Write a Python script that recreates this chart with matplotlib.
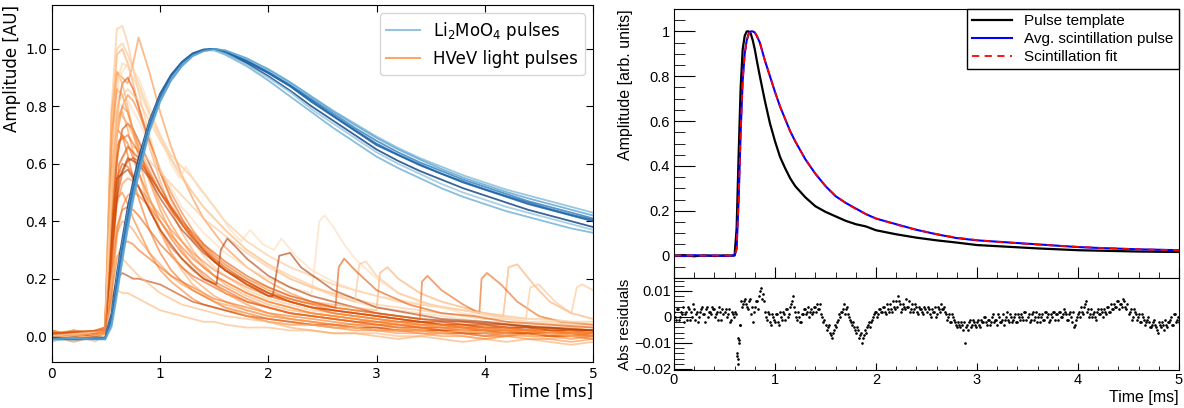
import numpy as np
import matplotlib.pyplot as plt
from matplotlib.lines import Line2D
from matplotlib.ticker import MultipleLocator

# ---------------- left panel: pulse shapes ----------------
t_grid = [0.0, 0.2, 0.4, 0.49,
          0.55, 0.6, 0.65, 0.7, 0.75, 0.8,
          0.9, 1.0, 1.1, 1.2, 1.3, 1.4, 1.5, 1.6,
          1.8, 2.0, 2.2, 2.4, 2.6, 2.8,
          3.0, 3.2, 3.4, 3.6, 3.8,
          4.0, 4.2, 4.4, 4.6, 4.8, 5.0]

li2moo4_pulses = [
    [-0.01, -0.005, -0.01, -0.01,
     0.05, 0.18, 0.30, 0.41, 0.51, 0.59,
     0.73, 0.83, 0.90, 0.95, 0.98, 0.995, 1.0, 0.99,
     0.955, 0.915, 0.87, 0.815, 0.765, 0.715,
     0.665, 0.63, 0.595, 0.565, 0.535,
     0.51, 0.485, 0.46, 0.44, 0.42, 0.40],
    [-0.005, -0.01, -0.005, -0.005,
     0.08, 0.22, 0.34, 0.45, 0.54, 0.62,
     0.75, 0.845, 0.91, 0.955, 0.985, 0.998, 1.0, 0.985,
     0.95, 0.905, 0.855, 0.80, 0.75, 0.70,
     0.65, 0.61, 0.575, 0.545, 0.515,
     0.49, 0.465, 0.44, 0.42, 0.40, 0.38],
    [-0.01, -0.01, -0.005, -0.01,
     0.04, 0.16, 0.28, 0.39, 0.49, 0.575,
     0.72, 0.82, 0.895, 0.945, 0.978, 0.995, 1.0, 0.992,
     0.96, 0.92, 0.875, 0.825, 0.775, 0.725,
     0.68, 0.64, 0.605, 0.575, 0.545,
     0.52, 0.495, 0.47, 0.45, 0.43, 0.41],
    [-0.015, -0.01, -0.01, -0.012,
     0.03, 0.14, 0.26, 0.37, 0.47, 0.56,
     0.71, 0.815, 0.89, 0.94, 0.975, 0.993, 1.0, 0.995,
     0.965, 0.93, 0.885, 0.835, 0.785, 0.74,
     0.695, 0.655, 0.62, 0.59, 0.56,
     0.535, 0.51, 0.49, 0.47, 0.45, 0.43],
    [-0.01, -0.005, -0.01, -0.008,
     0.06, 0.20, 0.32, 0.43, 0.52, 0.60,
     0.74, 0.835, 0.90, 0.95, 0.98, 0.995, 0.995, 0.98,
     0.94, 0.89, 0.835, 0.78, 0.725, 0.675,
     0.625, 0.585, 0.55, 0.515, 0.485,
     0.46, 0.435, 0.415, 0.395, 0.375, 0.36],
    [-0.012, -0.01, -0.008, -0.01,
     0.05, 0.19, 0.31, 0.42, 0.51, 0.595,
     0.735, 0.83, 0.90, 0.948, 0.978, 0.994, 0.997, 0.985,
     0.945, 0.90, 0.85, 0.79, 0.74, 0.69,
     0.64, 0.60, 0.565, 0.53, 0.50,
     0.475, 0.45, 0.43, 0.41, 0.39, 0.37],
    [-0.008, -0.012, -0.01, -0.01,
     0.06, 0.19, 0.31, 0.42, 0.515, 0.595,
     0.735, 0.835, 0.905, 0.952, 0.982, 0.997, 1.0, 0.99,
     0.958, 0.918, 0.872, 0.82, 0.768, 0.718,
     0.67, 0.632, 0.598, 0.566, 0.538,
     0.512, 0.488, 0.465, 0.443, 0.423, 0.405],
    [-0.01, -0.008, -0.012, -0.01,
     0.04, 0.15, 0.27, 0.38, 0.48, 0.565,
     0.715, 0.82, 0.89, 0.94, 0.975, 0.992, 1.0, 0.995,
     0.968, 0.928, 0.883, 0.832, 0.782, 0.735,
     0.69, 0.65, 0.615, 0.582, 0.552,
     0.527, 0.502, 0.48, 0.46, 0.44, 0.42],
]
li2moo4_shade = [0.85, 0.95, 0.7, 0.45, 0.5, 0.4, 0.8, 0.55]

hvev_pulses = [
    [0.01, -0.01, 0.00, 0.03,
     0.80, 1.07, 1.08, 1.02, 0.93, 0.85,
     0.70, 0.57, 0.47, 0.39, 0.33, 0.28, 0.24, 0.21,
     0.16, 0.13, 0.11, 0.09, 0.08, 0.07,
     0.06, 0.05, 0.05, 0.04, 0.03,
     0.04, 0.03, 0.02, 0.03, 0.02, 0.02],
    [0.00, 0.01, -0.01, 0.02,
     0.60, 0.92, 0.90, 0.88, 0.95, 1.04,
     0.92, 0.78, 0.66, 0.56, 0.48, 0.41, 0.36, 0.31,
     0.24, 0.19, 0.15, 0.12, 0.10, 0.09,
     0.08, 0.07, 0.06, 0.05, 0.05,
     0.04, 0.04, 0.03, 0.03, 0.03, 0.02],
    [0.00, 0.02, -0.01, 0.02,
     0.70, 0.98, 1.00, 0.95, 0.88, 0.80,
     0.66, 0.54, 0.44, 0.36, 0.30, 0.25, 0.21, 0.18,
     0.14, 0.11, 0.09, 0.08, 0.07, 0.06,
     0.05, 0.04, 0.04, 0.03, 0.03,
     0.02, 0.02, 0.02, 0.01, 0.01, 0.01],
    [0.01, -0.01, 0.01, 0.03,
     0.55, 0.88, 0.95, 0.94, 0.90, 0.86,
     0.77, 0.69, 0.62, 0.56, 0.50, 0.45, 0.41, 0.37,
     0.30, 0.25, 0.20, 0.17, 0.14, 0.12,
     0.10, 0.09, 0.08, 0.07, 0.06,
     0.05, 0.05, 0.04, 0.04, 0.03, 0.03],
    [0.01, 0.00, 0.02, 0.03,
     0.45, 0.78, 0.88, 0.90, 0.86, 0.80,
     0.68, 0.57, 0.48, 0.41, 0.35, 0.30, 0.26, 0.23,
     0.18, 0.14, 0.12, 0.10, 0.08, 0.07,
     0.06, 0.05, 0.05, 0.04, 0.03,
     0.03, 0.03, 0.02, 0.02, 0.02, 0.01],
    [-0.01, 0.01, 0.00, 0.02,
     0.40, 0.70, 0.80, 0.84, 0.82, 0.78,
     0.68, 0.58, 0.50, 0.43, 0.37, 0.32, 0.28, 0.25,
     0.20, 0.16, 0.13, 0.11, 0.09, 0.08,
     0.07, 0.06, 0.05, 0.04, 0.04,
     0.03, 0.03, 0.02, 0.02, 0.01, 0.01],
    [0.02, 0.00, 0.01, 0.02,
     0.55, 0.76, 0.78, 0.72, 0.64, 0.57,
     0.45, 0.36, 0.29, 0.24, 0.20, 0.17, 0.14, 0.12,
     0.09, 0.07, 0.06, 0.05, 0.04, 0.03,
     0.03, 0.02, 0.02, 0.01, 0.01,
     0.01, 0.00, 0.01, 0.00, 0.00, 0.00],
    [0.00, 0.02, 0.01, 0.03,
     0.35, 0.62, 0.72, 0.74, 0.72, 0.68,
     0.60, 0.52, 0.45, 0.39, 0.34, 0.30, 0.26, 0.23,
     0.19, 0.15, 0.12, 0.10, 0.09, 0.08,
     0.07, 0.06, 0.05, 0.05, 0.04,
     0.04, 0.03, 0.03, 0.02, 0.02, 0.02],
    [0.01, -0.01, 0.00, 0.02,
     0.45, 0.66, 0.70, 0.67, 0.62, 0.57,
     0.48, 0.40, 0.34, 0.29, 0.25, 0.22, 0.19, 0.17,
     0.13, 0.10, 0.08, 0.07, 0.06, 0.05,
     0.04, 0.04, 0.03, 0.03, 0.02,
     0.02, 0.02, 0.01, 0.01, 0.01, 0.00],
    [0.00, 0.01, -0.02, 0.01,
     0.30, 0.52, 0.62, 0.65, 0.66, 0.65,
     0.61, 0.57, 0.53, 0.49, 0.45, 0.41, 0.38, 0.35,
     0.29, 0.24, 0.20, 0.17, 0.15, 0.13,
     0.11, 0.10, 0.09, 0.08, 0.07,
     0.06, 0.06, 0.05, 0.05, 0.04, 0.04],
    [0.01, 0.00, 0.01, 0.02,
     0.35, 0.55, 0.60, 0.59, 0.56, 0.52,
     0.44, 0.37, 0.31, 0.27, 0.23, 0.20, 0.18, 0.16,
     0.12, 0.10, 0.08, 0.07, 0.06, 0.05,
     0.04, 0.03, 0.03, 0.02, 0.02,
     0.02, 0.01, 0.01, 0.01, 0.00, 0.01],
    [-0.01, 0.01, 0.00, 0.01,
     0.25, 0.46, 0.53, 0.55, 0.54, 0.52,
     0.47, 0.42, 0.37, 0.33, 0.29, 0.26, 0.23, 0.21,
     0.17, 0.14, 0.12, 0.10, 0.08, 0.07,
     0.06, 0.05, 0.04, 0.04, 0.03,
     0.03, 0.02, 0.02, 0.02, 0.01, 0.01],
    [0.00, 0.02, 0.00, 0.02,
     0.35, 0.48, 0.50, 0.46, 0.41, 0.37,
     0.29, 0.23, 0.19, 0.16, 0.13, 0.11, 0.10, 0.09,
     0.07, 0.05, 0.04, 0.04, 0.03, 0.02,
     0.02, 0.02, 0.01, 0.01, 0.01,
     0.00, 0.01, 0.00, 0.00, -0.01, 0.00],
    [0.01, 0.00, 0.01, 0.02,
     0.20, 0.38, 0.44, 0.45, 0.44, 0.42,
     0.37, 0.32, 0.28, 0.24, 0.21, 0.19, 0.17, 0.15,
     0.12, 0.10, 0.08, 0.07, 0.06, 0.05,
     0.05, 0.04, 0.03, 0.03, 0.03,
     0.02, 0.02, 0.02, 0.01, 0.01, 0.01],
    [0.00, -0.01, 0.01, 0.01,
     0.22, 0.36, 0.40, 0.39, 0.37, 0.34,
     0.29, 0.25, 0.21, 0.18, 0.16, 0.14, 0.12, 0.11,
     0.09, 0.07, 0.06, 0.05, 0.04, 0.04,
     0.03, 0.03, 0.02, 0.02, 0.02,
     0.01, 0.01, 0.01, 0.00, 0.01, 0.00],
    [0.01, 0.01, 0.00, 0.02,
     0.15, 0.27, 0.32, 0.33, 0.32, 0.30,
     0.27, 0.24, 0.21, 0.19, 0.17, 0.15, 0.13, 0.12,
     0.10, 0.08, 0.07, 0.06, 0.05, 0.04,
     0.04, 0.03, 0.03, 0.02, 0.02,
     0.02, 0.01, 0.01, 0.01, 0.01, 0.00],
    [0.00, 0.01, 0.00, 0.02,
     0.12, 0.20, 0.22, 0.21, 0.20, 0.20,
     0.19, 0.18, 0.16, 0.14, 0.12, 0.11, 0.10, 0.09,
     0.07, 0.06, 0.05, 0.04, 0.04, 0.03,
     0.03, 0.02, 0.02, 0.02, 0.01,
     0.01, 0.01, 0.01, 0.00, 0.00, 0.00],
    [0.01, -0.01, 0.00, 0.01,
     0.12, 0.16, 0.15, 0.15, 0.14, 0.13,
     0.11, 0.09, 0.08, 0.07, 0.06, 0.05, 0.05, 0.04,
     0.03, 0.03, 0.02, 0.02, 0.01, 0.01,
     0.01, 0.00, 0.00, 0.01, 0.00,
     -0.01, 0.00, 0.00, -0.01, 0.00, -0.01],
    [0.00, 0.01, 0.00, 0.02,
     0.75, 1.00, 1.02, 0.98, 0.93, 0.88,
     0.78, 0.70, 0.63, 0.59, 0.55, 0.50, 0.45, 0.40,
     0.33, 0.28, 0.24, 0.21, 0.18, 0.16,
     0.14, 0.12, 0.11, 0.10, 0.09,
     0.08, 0.07, 0.06, 0.06, 0.05, 0.05],
    [0.02, 0.00, 0.01, 0.03,
     0.70, 0.86, 0.84, 0.78, 0.71, 0.65,
     0.55, 0.46, 0.39, 0.33, 0.28, 0.24, 0.21, 0.19,
     0.15, 0.12, 0.10, 0.08, 0.07, 0.06,
     0.05, 0.04, 0.04, 0.03, 0.03,
     0.02, 0.02, 0.02, 0.01, 0.01, 0.01],
    [-0.01, 0.00, 0.01, 0.02,
     0.58, 0.72, 0.70, 0.63, 0.55, 0.48,
     0.37, 0.29, 0.23, 0.19, 0.16, 0.14, 0.12, 0.10,
     0.08, 0.06, 0.05, 0.04, 0.03, 0.03,
     0.02, 0.02, 0.02, 0.01, 0.01,
     0.00, 0.00, 0.01, 0.00, 0.00, -0.01],
    [0.01, 0.01, 0.00, 0.02,
     0.25, 0.48, 0.57, 0.61, 0.62, 0.61,
     0.56, 0.50, 0.44, 0.39, 0.35, 0.31, 0.27, 0.24,
     0.19, 0.15, 0.12, 0.10, 0.09, 0.08,
     0.07, 0.06, 0.05, 0.04, 0.04,
     0.03, 0.03, 0.03, 0.02, 0.02, 0.02],
    [-0.02, 0.01, -0.01, 0.01,
     0.78, 0.92, 0.88, 0.80, 0.71, 0.62,
     0.48, 0.37, 0.29, 0.23, 0.18, 0.15, 0.12, 0.10,
     0.07, 0.05, 0.03, 0.02, 0.01, 0.01,
     0.00, -0.01, 0.00, -0.01, -0.02,
     -0.01, -0.02, -0.01, -0.02, -0.03, -0.02],
    [0.02, 0.00, 0.02, 0.03,
     0.15, 0.35, 0.45, 0.49, 0.50, 0.49,
     0.45, 0.40, 0.35, 0.31, 0.27, 0.24, 0.21, 0.19,
     0.15, 0.12, 0.10, 0.08, 0.07, 0.06,
     0.05, 0.05, 0.04, 0.04, 0.03,
     0.03, 0.03, 0.02, 0.03, 0.02, 0.02],
    [0.00, -0.02, 0.00, 0.01,
     0.50, 0.74, 0.80, 0.78, 0.72, 0.66,
     0.54, 0.44, 0.36, 0.30, 0.25, 0.21, 0.18, 0.15,
     0.11, 0.08, 0.06, 0.05, 0.04, 0.03,
     0.02, 0.01, 0.01, 0.00, 0.00,
     -0.01, 0.00, -0.01, -0.01, -0.02, -0.01],
    [0.01, 0.02, 0.00, 0.02,
     0.20, 0.28, 0.27, 0.25, 0.23, 0.21,
     0.18, 0.15, 0.13, 0.11, 0.10, 0.09, 0.08, 0.07,
     0.06, 0.05, 0.04, 0.04, 0.03, 0.03,
     0.02, 0.02, 0.02, 0.01, 0.02,
     0.01, 0.01, 0.00, 0.01, 0.00, 0.00],
]
hvev_shade = [0.3, 0.5, 0.4, 0.25, 0.7, 0.55, 0.45, 0.8, 0.6, 0.3, 0.65,
              0.5, 0.55, 0.65, 0.45, 0.6, 0.8, 0.35, 0.3, 0.5, 0.6, 0.75,
              0.4, 0.55, 0.5, 0.35]

# pulses with pile-up bumps, each on its own time points
bump_t = [
    [0, 0.49, 0.55, 0.62, 0.7, 0.8, 1.0, 1.2, 1.4, 1.6, 1.8, 2.0, 2.2, 2.4, 2.47, 2.52,
     2.6, 2.7, 2.8, 3.0, 3.2, 3.4, 3.6, 3.8, 4.0, 4.4, 4.8, 5.0],
    [0, 0.49, 0.55, 0.62, 0.7, 0.8, 0.9, 1.0, 1.2, 1.4, 1.6, 1.8, 2.0, 2.04, 2.1, 2.2,
     2.3, 2.45, 2.6, 2.8, 3.0, 3.3, 3.6, 4.0, 4.5, 5.0],
    [0, 0.49, 0.55, 0.6, 0.7, 0.8, 0.9, 1.0, 1.2, 1.4, 1.52, 1.56, 1.62, 1.7, 1.8, 2.0,
     2.2, 2.4, 2.6, 2.8, 3.0, 3.4, 3.8, 4.2, 4.6, 5.0],
    [0, 0.49, 0.55, 0.62, 0.7, 0.8, 1.0, 1.2, 1.4, 1.6, 1.8, 2.0, 2.2, 2.4, 2.6, 2.8,
     3.0, 3.03, 3.1, 3.2, 3.4, 3.6, 3.8, 4.0, 4.17, 4.22, 4.3, 4.45, 4.6, 4.8, 5.0],
    [0, 0.49, 0.55, 0.62, 0.7, 0.8, 1.0, 1.2, 1.4, 1.6, 1.8, 2.0, 2.3, 2.6, 3.0, 3.4,
     3.42, 3.47, 3.6, 3.8, 3.95, 3.97, 4.02, 4.15, 4.3, 4.5, 4.7, 5.0],
    [0, 0.49, 0.55, 0.62, 0.7, 0.8, 1.0, 1.2, 1.4, 1.6, 1.8, 2.0, 2.2, 2.5, 2.8, 2.84,
     2.9, 3.0, 3.2, 3.5, 3.8, 4.1, 4.38, 4.42, 4.5, 4.65, 4.8, 4.85, 4.9, 5.0],
    [0, 0.49, 0.55, 0.62, 0.7, 0.8, 0.9, 1.0, 1.1, 1.18, 1.24, 1.35, 1.5, 1.65, 1.75,
     1.83, 1.95, 2.05, 2.12, 2.25, 2.4, 2.6, 2.8, 3.0, 3.3, 3.6, 4.0, 4.4, 4.8, 5.0],
    [0, 0.49, 0.55, 0.62, 0.7, 0.8, 1.0, 1.2, 1.4, 1.6, 1.8, 2.0, 2.2, 2.4, 2.62, 2.65,
     2.7, 2.8, 3.0, 3.3, 3.6, 3.9, 4.2, 4.6, 5.0],
]
bump_y = [
    [0.01, 0.02, 0.5, 0.8, 0.82, 0.75, 0.58, 0.45, 0.36, 0.29, 0.24, 0.2, 0.17, 0.15, 0.40, 0.42,
     0.38, 0.32, 0.27, 0.2, 0.15, 0.12, 0.10, 0.08, 0.07, 0.05, 0.04, 0.03],
    [0.0, 0.02, 0.3, 0.55, 0.62, 0.60, 0.55, 0.48, 0.37, 0.29, 0.23, 0.18, 0.14, 0.14, 0.28, 0.29,
     0.24, 0.20, 0.16, 0.13, 0.10, 0.08, 0.06, 0.05, 0.03, 0.02],
    [0.01, 0.02, 0.35, 0.55, 0.58, 0.52, 0.44, 0.37, 0.27, 0.20, 0.18, 0.30, 0.34, 0.31, 0.27, 0.21,
     0.17, 0.14, 0.12, 0.10, 0.08, 0.06, 0.05, 0.04, 0.03, 0.02],
    [0.0, 0.02, 0.5, 0.78, 0.74, 0.66, 0.50, 0.39, 0.31, 0.25, 0.2, 0.17, 0.14, 0.12, 0.11, 0.10,
     0.09, 0.22, 0.24, 0.2, 0.15, 0.12, 0.10, 0.08, 0.07, 0.24, 0.25, 0.18, 0.12, 0.08, 0.06],
    [0.01, 0.02, 0.4, 0.68, 0.7, 0.64, 0.5, 0.39, 0.3, 0.23, 0.18, 0.15, 0.12, 0.1, 0.08, 0.06,
     0.19, 0.21, 0.16, 0.11, 0.08, 0.2, 0.22, 0.18, 0.12, 0.07, 0.05, 0.04],
    [-0.01, 0.02, 0.45, 0.82, 0.86, 0.82, 0.68, 0.55, 0.45, 0.37, 0.30, 0.25, 0.21, 0.16, 0.12, 0.25,
     0.26, 0.21, 0.15, 0.11, 0.09, 0.07, 0.06, 0.17, 0.18, 0.12, 0.08, 0.17, 0.18, 0.16],
    [0.0, 0.02, 0.55, 0.9, 0.95, 0.9, 0.8, 0.7, 0.6, 0.55, 0.59, 0.52, 0.45, 0.37, 0.33,
     0.37, 0.32, 0.30, 0.34, 0.28, 0.23, 0.19, 0.16, 0.14, 0.12, 0.10, 0.08, 0.06, 0.05, 0.05],
    [0.01, 0.02, 0.3, 0.6, 0.66, 0.62, 0.5, 0.4, 0.32, 0.26, 0.21, 0.17, 0.14, 0.12, 0.1, 0.24,
     0.27, 0.23, 0.16, 0.11, 0.08, 0.07, 0.05, 0.04, 0.03],
]
bump_shade = [0.2, 0.85, 0.85, 0.4, 0.65, 0.3, 0.2, 0.7]

# ---------------- right panel: template vs scintillation ----------------
t_avg = [0, 0.1, 0.2, 0.3, 0.4, 0.5, 0.58, 0.6, 0.62, 0.64, 0.66, 0.68, 0.7, 0.72, 0.74,
         0.76, 0.78, 0.8, 0.82, 0.85, 0.9, 0.95, 1.0, 1.05, 1.1, 1.15, 1.2, 1.3, 1.4, 1.5,
         1.6, 1.7, 1.8, 1.9, 2.0, 2.2, 2.4, 2.6, 2.8, 3.0, 3.2, 3.4, 3.6, 3.8, 4.0, 4.2,
         4.4, 4.6, 4.8, 5.0]
pulse_template = [0.0, 0.002, -0.003, 0.001, -0.002, 0.001, 0.0, 0.002, 0.12, 0.45, 0.75, 0.92,
                  0.98, 1.0, 1.0, 0.99, 0.96, 0.92, 0.87, 0.80, 0.69, 0.59, 0.51, 0.44, 0.39,
                  0.345, 0.31, 0.26, 0.22, 0.195, 0.175, 0.155, 0.14, 0.13, 0.113, 0.095,
                  0.08, 0.068, 0.058, 0.047, 0.042, 0.037, 0.032, 0.028, 0.024, 0.022, 0.02,
                  0.018, 0.017, 0.016]
avg_scint = [0.0, -0.002, 0.002, -0.001, 0.001, -0.002, 0.0, 0.0, 0.03, 0.25, 0.55, 0.78,
             0.90, 0.96, 0.99, 1.0, 1.0, 0.995, 0.98, 0.95, 0.87, 0.80, 0.73, 0.665, 0.61,
             0.555, 0.51, 0.43, 0.365, 0.31, 0.265, 0.235, 0.21, 0.185, 0.165, 0.14, 0.115,
             0.095, 0.078, 0.068, 0.062, 0.056, 0.05, 0.044, 0.038, 0.034, 0.031, 0.028,
             0.026, 0.024]
scint_fit = [0.0, 0.0, 0.0, 0.0, 0.0, 0.0, 0.0, 0.0, 0.03, 0.25, 0.55, 0.78,
             0.90, 0.96, 0.99, 1.0, 1.0, 0.995, 0.98, 0.95, 0.87, 0.80, 0.73, 0.665, 0.61,
             0.555, 0.51, 0.43, 0.365, 0.31, 0.266, 0.235, 0.208, 0.185, 0.166, 0.138, 0.115,
             0.096, 0.08, 0.069, 0.061, 0.055, 0.049, 0.044, 0.039, 0.035, 0.031, 0.028,
             0.026, 0.024]

# residuals, one value every 0.02 ms from 0 to 5 ms
res_step = 0.02
residuals = [
    0.002, -0.001, 0.003, 0.000, 0.001, -0.002, 0.002, 0.004, -0.001, 0.000,
    0.003, 0.001, -0.002, 0.002, 0.004, 0.001, 0.003, 0.000, 0.002, 0.004,
    0.003, 0.001, -0.001, 0.002, 0.003,
    0.002, 0.000, 0.003, -0.001, 0.001, 0.002, -0.014, -0.009, 0.006, 0.005,
    0.007, 0.004, 0.006, 0.001, -0.002, 0.004, 0.006, 0.008, 0.011, 0.009,
    0.002, -0.001, 0.001, -0.003, 0.000,
    -0.002, 0.001, -0.003, 0.000, 0.002, -0.001, 0.003, 0.001, 0.005, 0.008,
    0.002, -0.001, 0.000, -0.002, 0.001, 0.003, 0.002, 0.000, 0.003, 0.002,
    0.004, 0.005, 0.003, 0.001, -0.002,
    -0.003, -0.004, -0.006, -0.008, -0.005, -0.004, -0.001, 0.000, 0.002, 0.005,
    0.003, 0.001, -0.001, -0.003, -0.004, -0.006, -0.005, -0.007, -0.010, -0.007,
    -0.006, -0.003, -0.004, -0.001, 0.001,
    0.002, 0.001, 0.003, 0.002, 0.004, 0.001, 0.003, 0.005, 0.002, 0.004,
    0.006, 0.008, 0.005, 0.003, 0.004, 0.007, 0.004, 0.002, 0.005, 0.003,
    0.004, 0.001, 0.003, 0.002, 0.004,
    0.002, 0.003, 0.000, 0.002, 0.004, 0.001, 0.003, 0.005, 0.003, 0.002,
    -0.001, 0.001, -0.002, 0.000, -0.002, -0.004, -0.003, -0.002, -0.005, -0.010,
    -0.003, -0.002, -0.004, -0.001, -0.003,
    -0.002, -0.003, -0.001, -0.002, 0.000, -0.003, -0.001, -0.002, 0.001, -0.001,
    -0.003, 0.000, -0.002, 0.001, -0.001, 0.002, -0.002, 0.000, -0.001, 0.001,
    -0.002, 0.000, 0.001, -0.001, 0.002,
    0.000, -0.002, 0.001, -0.001, 0.002, 0.000, -0.002, 0.001, -0.001, 0.002,
    0.001, -0.001, 0.000, 0.002, 0.001, -0.001, 0.002, 0.000, 0.003, 0.001,
    -0.001, 0.002, -0.002, -0.004, -0.001,
    0.001, 0.000, 0.002, 0.004, 0.006, 0.003, 0.001, 0.000, 0.002, -0.001,
    0.003, 0.001, 0.002, 0.003, 0.001, 0.004, 0.002, 0.003, 0.005, 0.004,
    0.006, 0.005, 0.004, 0.006, 0.003,
    0.001, 0.003, 0.000, 0.002, -0.001, 0.001, -0.002, 0.000, -0.003, -0.001,
    -0.002, -0.004, -0.002, -0.003, -0.005, -0.002, -0.004, -0.003, -0.001, -0.004,
    -0.002, 0.000, -0.003, 0.001, -0.001,
    -0.002,
]
# second set of residual samples, halfway between the first (0.01, 0.03, ... 4.99 ms)
residuals_mid = [
    0.000, 0.003, -0.001, 0.002, 0.004, 0.001, -0.001, 0.003, 0.002, 0.005,
    -0.001, 0.002, 0.000, 0.003, 0.001, -0.002, 0.004, 0.002, 0.001, 0.003,
    0.000, 0.002, 0.004, -0.001, 0.001,
    0.003, 0.001, -0.002, 0.002, 0.000, 0.001, -0.016, -0.003, 0.004, 0.006,
    0.005, 0.003, 0.007, 0.004, 0.002, 0.006, 0.003, 0.010, 0.007, 0.006,
    0.000, 0.002, -0.002, 0.001, -0.001,
    0.001, -0.002, 0.002, -0.001, 0.001, 0.003, 0.000, 0.004, 0.006, 0.004,
    0.000, 0.002, -0.002, 0.001, 0.003, 0.001, 0.004, 0.002, 0.001, 0.004,
    0.002, 0.003, 0.005, 0.000, -0.001,
    -0.005, -0.003, -0.007, -0.006, -0.003, -0.002, 0.001, 0.002, 0.003, 0.001,
    0.004, 0.000, -0.002, -0.002, -0.005, -0.004, -0.008, -0.006, -0.008, -0.005,
    -0.004, -0.002, -0.002, 0.000, 0.002,
    0.000, 0.003, 0.002, 0.004, 0.002, 0.005, 0.002, 0.003, 0.006, 0.003,
    0.004, 0.006, 0.002, 0.005, 0.003, 0.004, 0.006, 0.003, 0.002, 0.005,
    0.002, 0.004, 0.003, 0.001, 0.003,
    0.004, 0.001, 0.003, 0.002, 0.000, 0.004, 0.002, 0.003, 0.004, 0.001,
    0.000, -0.002, 0.001, -0.001, -0.003, -0.002, -0.004, -0.003, -0.002, -0.004,
    -0.005, -0.001, -0.003, -0.002, -0.004,
    -0.001, -0.004, -0.002, 0.000, -0.002, -0.001, -0.003, 0.000, -0.002, -0.001,
    0.001, -0.002, -0.001, -0.003, 0.000, -0.001, 0.001, -0.002, 0.000, -0.002,
    0.001, -0.001, 0.000, 0.002, -0.001,
    0.001, -0.001, 0.002, 0.000, -0.002, 0.001, 0.000, -0.001, 0.002, 0.000,
    -0.002, 0.001, 0.002, -0.001, 0.001, 0.002, 0.000, 0.001, 0.002, -0.001,
    0.001, 0.000, 0.002, -0.003, 0.000,
    0.002, 0.004, 0.001, 0.005, 0.002, 0.000, 0.003, 0.001, 0.000, 0.002,
    0.001, 0.003, 0.000, 0.002, 0.004, 0.002, 0.005, 0.003, 0.004, 0.006,
    0.003, 0.005, 0.007, 0.004, 0.005,
    0.002, -0.001, 0.003, 0.001, 0.000, -0.002, 0.001, -0.001, -0.002, 0.000,
    -0.004, -0.003, -0.001, -0.004, -0.006, -0.003, -0.002, -0.005, -0.003, -0.002,
    -0.001, -0.003, 0.001, -0.002, 0.000,
]
spike_t = [0.625, 0.63, 0.635, 0.645, 0.655]
spike_r = [-0.015, -0.018, -0.008, -0.010, -0.003]

W, H = 1184, 408
fig = plt.figure(figsize=(W / 100, H / 100), dpi=100)

# ---------- left ----------
ax = fig.add_axes([52 / W, 46 / H, 541 / W, 357 / H])
for y, s in zip(hvev_pulses, hvev_shade):
    ax.plot(t_grid, y, color=plt.cm.Oranges(s), alpha=0.6, lw=1.3)
for tt, y, s in zip(bump_t, bump_y, bump_shade):
    ax.plot(tt, y, color=plt.cm.Oranges(s), alpha=0.6, lw=1.3)
for y, s in zip(li2moo4_pulses, li2moo4_shade):
    ax.plot(t_grid, y, color=plt.cm.Blues(s), alpha=0.8, lw=1.3)

ax.set_xlim(0, 5)
ax.set_ylim(-0.09, 1.153)
ax.set_xticks([0, 1, 2, 3, 4, 5])
ax.set_yticks([0.0, 0.2, 0.4, 0.6, 0.8, 1.0])
ax.tick_params(direction='in', top=True, right=True, labelsize=10, length=5)
ax.set_xlabel('Time [ms]', loc='right', fontsize=12, labelpad=1)
ax.set_ylabel('Amplitude [AU]', loc='top', fontsize=12)
ax.yaxis.set_label_coords(-0.057, 1.0)
handles = [Line2D([], [], color=plt.cm.Blues(0.4), lw=1.5),
           Line2D([], [], color=plt.cm.Oranges(0.4), lw=1.5)]
ax.legend(handles, ['Li$_2$MoO$_4$ pulses', 'HVeV light pulses'],
          loc='upper right', fontsize=12)

# ---------- right ----------
rfont = 'Liberation Sans'
ax2 = fig.add_axes([674 / W, 130 / H, 505 / W, 269 / H])
ax3 = fig.add_axes([674 / W, 38 / H, 505 / W, 92 / H], sharex=ax2)

ax2.plot(t_avg, pulse_template, color='black', lw=1.6, label='Pulse template')
ax2.plot(t_avg, avg_scint, color='blue', lw=1.5, label='Avg. scintillation pulse')
ax2.plot(t_avg, scint_fit, color='red', lw=1.3, ls=(0, (4, 3)), label='Scintillation fit')
ax2.set_xlim(0, 5)
ax2.set_ylim(-0.1, 1.1)
ax2.yaxis.set_major_locator(MultipleLocator(0.2))
ax2.yaxis.set_minor_locator(MultipleLocator(0.05))
ax2.xaxis.set_major_locator(MultipleLocator(1))
ax2.xaxis.set_minor_locator(MultipleLocator(0.2))
ax2.set_yticks([0, 0.2, 0.4, 0.6, 0.8, 1.0], ['0', '0.2', '0.4', '0.6', '0.8', '1'])
ax2.tick_params(which='both', direction='in', top=False, right=False,
                labelbottom=False, labelsize=10.5, labelfontfamily=rfont, pad=3)
ax2.tick_params(axis='y', which='major', length=15)
ax2.tick_params(axis='y', which='minor', length=8)
ax2.tick_params(axis='x', which='major', length=8)
ax2.tick_params(axis='x', which='minor', length=4)
ax2.set_ylabel('Amplitude [arb. units]', loc='top', fontsize=11.5, fontfamily=rfont)
ax2.yaxis.set_label_coords(-0.082, 1.0)
ax2.legend(loc='upper right', bbox_to_anchor=(1, 1), borderaxespad=0, fancybox=False,
           edgecolor='black', framealpha=1, prop={'family': rfont, 'size': 11},
           handlelength=2.6, labelspacing=0.25, borderpad=0.35)

res_t = np.arange(len(residuals)) * res_step
res_mid_t = 0.01 + np.arange(len(residuals_mid)) * res_step
ax3.plot(res_t, residuals, 'k.', ms=1.8)
ax3.plot(res_mid_t, residuals_mid, 'k.', ms=1.8)
ax3.plot(spike_t, spike_r, 'k.', ms=1.8)
ax3.set_ylim(-0.0204, 0.015)
ax3.set_yticks([-0.02, -0.01, 0, 0.01], ['\u22120.02', '\u22120.01', '0', '0.01'])
ax3.yaxis.set_minor_locator(MultipleLocator(0.002))
ax3.tick_params(which='both', direction='in', top=False, right=False,
                labelsize=10.5, labelfontfamily=rfont, pad=2)
ax3.tick_params(axis='y', which='major', length=13)
ax3.tick_params(axis='y', which='minor', length=7)
ax3.tick_params(axis='x', which='major', length=5)
ax3.tick_params(axis='x', which='minor', length=3)
ax3.set_xlabel('Time [ms]', loc='right', fontsize=11.5, fontfamily=rfont)
ax3.xaxis.set_label_coords(1.0, -0.22)
ax3.set_ylabel('Abs residuals', fontsize=11, fontfamily=rfont)
ax3.yaxis.set_label_coords(-0.084, 0.5)

fig.savefig('out.png', dpi=100)
